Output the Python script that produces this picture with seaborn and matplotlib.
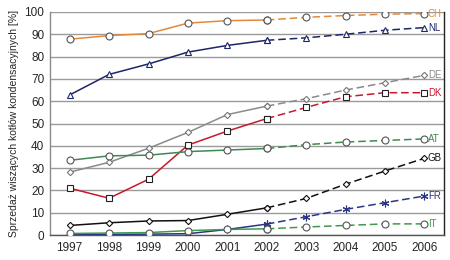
import numpy as np
import pandas as pd
import seaborn as sns
import matplotlib.pyplot as plt
from matplotlib.ticker import FixedLocator

# Data (share of wall-hung condensing boilers, %)
years = [1997, 1998, 1999, 2000, 2001, 2002, 2003, 2004, 2005, 2006]
ch = [87.8, 89.4, 90.3, 95.0, 96.1, 96.4, 97.6, 98.4, 99.0, 99.3]
nl = [62.8, 72.0, 76.7, 82.0, 85.0, 87.3, 88.4, 90.0, 91.8, 93.0]
de = [28.2, 32.6, 38.9, 46.0, 54.0, 57.8, 61.1, 65.0, 68.3, 71.6]
dk = [21.0, 16.5, 25.0, 40.3, 46.6, 52.2, 57.2, 62.0, 63.8, 63.8]
at = [33.5, 35.5, 35.8, 37.4, 38.1, 38.8, 40.5, 41.7, 42.4, 43.1]
gb = [4.3, 5.5, 6.3, 6.5, 9.3, 12.2, 16.4, 22.8, 28.7, 34.4]
fr = [0.2, 0.3, 0.4, 0.6, 2.5, 4.9, 8.2, 11.5, 14.5, 17.5]
it = [0.7, 0.9, 1.1, 2.0, 2.5, 2.8, 3.6, 4.3, 5.0, 5.0]

series = {"CH": ch, "NL": nl, "DE": de, "DK": dk, "AT": at, "GB": gb, "FR": fr, "IT": it}
colours = {"CH": "#E5883A", "NL": "#1C2668", "DE": "#8A8A8A", "DK": "#C8182E",
           "AT": "#3E8A52", "GB": "#111111", "FR": "#2A3585", "IT": "#3F9A4C"}
markers = {"CH": "o", "NL": "^", "DE": "D", "DK": "s", "AT": "o", "GB": "D",
           "FR": (6, 2, 0), "IT": "o"}
msizes = {"CH": 5, "NL": 4.5, "DE": 3.2, "DK": 5, "AT": 5, "GB": 3.2, "FR": 5.5, "IT": 5}
edges = {"CH": "#555555", "NL": "#1C2668", "DE": "#777777", "DK": "#222222",
         "AT": "#555555", "GB": "#111111", "FR": "#2A3585", "IT": "#555555"}

rows = []
for name, vals in series.items():
    for i, (yr, v) in enumerate(zip(years, vals)):
        rows.append({"country": name, "idx": i, "year": yr, "value": v})
df = pd.DataFrame(rows)

sns.set_style("white")
plt.rcParams['font.family'] = ['Liberation Sans Narrow', 'Liberation Sans', 'DejaVu Sans']

fig = plt.figure(figsize=(4.5, 2.6), dpi=100)
ax = fig.add_axes([0.111, 0.096, 0.876, 0.858])

for name in series:
    d = df[df["country"] == name]
    solid = d[d["idx"] <= 5]
    dashed = d[d["idx"] >= 5]
    for part, ls in ((solid, "-"), (dashed, (0, (5, 2.5)))):
        sns.lineplot(data=part, x="idx", y="value", ax=ax, color=colours[name],
                     linewidth=1.1, linestyle=ls, marker=markers[name],
                     markersize=msizes[name], markerfacecolor="white",
                     markeredgecolor=edges[name], markeredgewidth=0.8,
                     legend=False, zorder=3)
    ax.text(9.09, series[name][-1], name, color=colours[name], fontsize=7,
            va="center", ha="left")

ax.set_xlim(-0.5, 9.5)
ax.set_ylim(0, 100)
ax.set_yticks(range(0, 101, 10))
ax.yaxis.grid(True, color="#9A9A9A", linewidth=1.0)
ax.set_axisbelow(True)
ax.set_xticks(range(len(years)))
ax.set_xticklabels(years)
ax.xaxis.set_minor_locator(FixedLocator(np.arange(0.5, 9.5, 1)))
ax.tick_params(axis="x", which="major", length=0, labelsize=8.5, pad=5)
ax.tick_params(axis="x", which="minor", length=4, width=1, color="#222222", direction="out")
ax.tick_params(axis="y", length=0, labelsize=8.5, pad=4)
ax.set_xlabel("")
ax.set_ylabel("Sprzedaż wiszących kotłów kondensacyjnych [%]", fontsize=7.5, labelpad=4)

ax.spines["top"].set_visible(False)
ax.spines["left"].set_color("#8A8A8A")
ax.spines["bottom"].set_color("#555555")
ax.spines["right"].set_color("#222222")
for s in ("left", "bottom", "right"):
    ax.spines[s].set_linewidth(1.0)

fig.savefig("out.png", dpi=100)
